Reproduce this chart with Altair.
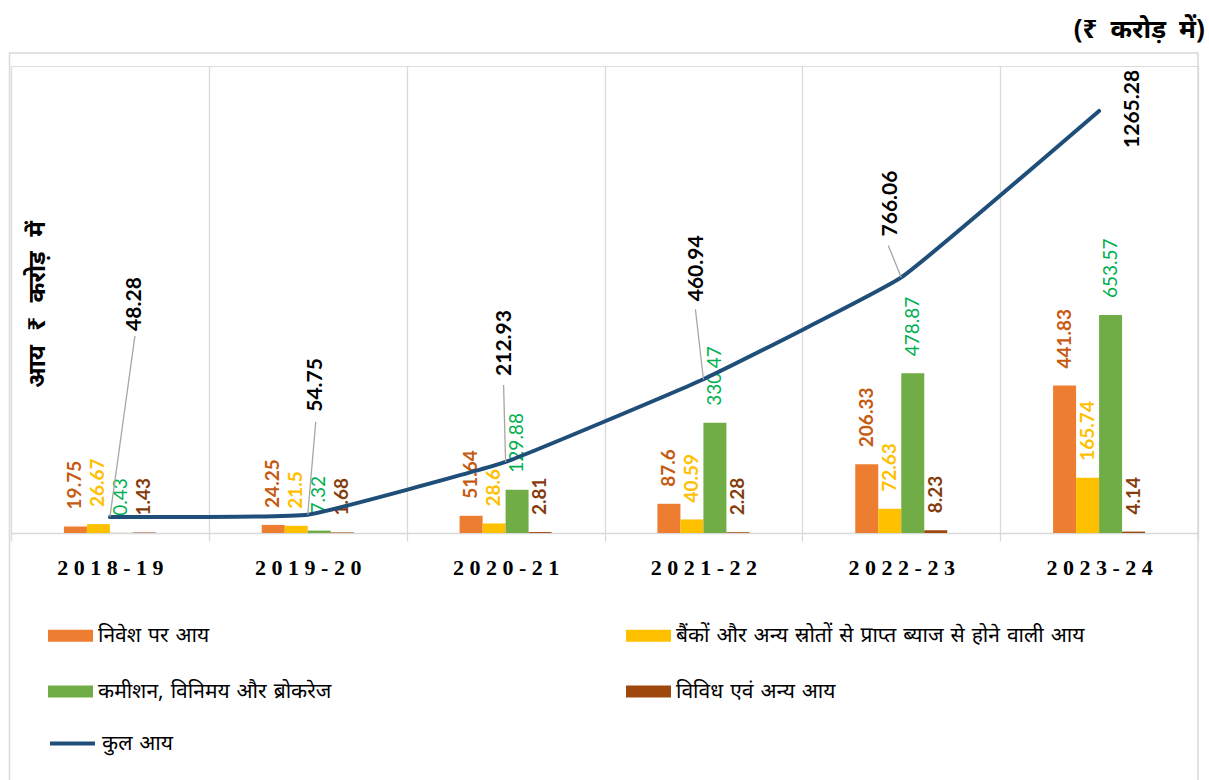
import altair as alt
import pandas as pd

# ---------------- data ----------------
years = ["2018-19", "2019-20", "2020-21", "2021-22", "2022-23", "2023-24"]
series_names = [
    "निवेश पर आय",
    "बैंकों और अन्य स्रोतों से प्राप्त ब्याज से होने वाली आय",
    "कमीशन, विनिमय और ब्रोकरेज",
    "विविध एवं अन्य आय",
]
total_name = "कुल आय"
investment = [19.75, 24.25, 51.64, 87.6, 206.33, 441.83]
interest = [26.67, 21.5, 28.6, 40.59, 72.63, 165.74]
commission = [0.43, 7.32, 129.88, 330.47, 478.87, 653.57]
misc = [1.43, 1.68, 2.81, 2.28, 8.23, 4.14]
total = [48.28, 54.75, 212.93, 460.94, 766.06, 1265.28]

# ---------------- styles ----------------
bar_colors = ["#ED7D31", "#FFC000", "#70AD47", "#9E480E"]
line_color = "#1F4E79"
label_colors = ["#C55A11", "#FFC000", "#00B050", "#843C0C"]
label_weights = ["bold", "bold", "normal", "bold"]
# manual nudges of the total labels (pixels): (right, up) of label start, leader end (right, down)
total_label_nudge = [(25.5, 186), (8.5, 103), (-1, 86), (-6.5, 78), (-10.5, 41), (33.5, -37)]
leader_end = [(25, -181), (8, -93), (-2, -77), (-8, -70), (-13, -32), None]
# legend is filled column by column: order the entries so rows read like the reference
legend_order = [0, 2, 1, 3]

DEV = "Noto Sans, sans-serif"
NUM = "Lato"
WIDE = "replace(datum.label, regexp(' ', 'g'), '\u2004')"

W, H = 1187, 467
STEP = W / len(years)
GROUP = 92  # width of a 4-bar group in pixels

series_values = [investment, interest, commission, misc]
rows = []
for s, vals in zip(series_names, series_values):
    for y, v in zip(years, vals):
        rows.append({"year": y, "series": s, "value": v, "label": str(v)})
bars_df = pd.DataFrame(rows)
total_df = pd.DataFrame({"year": years, "total": total, "name": total_name,
                         "label": [str(t) for t in total]})

x_scale = alt.Scale(paddingInner=0, paddingOuter=0)
x_axis = alt.Axis(
    title=None, tickBand="extent", grid=True, gridColor="#D9D9D9", gridWidth=1.3,
    domainColor="#D9D9D9", domainWidth=1.5, tickColor="#D9D9D9", tickSize=8, tickWidth=1.3,
    labelFont="Liberation Serif", labelFontWeight="bold", labelFontSize=22, labelColor="black",
    labelBaseline="alphabetic", labelPadding=33, labelAngle=0,
    labelExpr="join(split(datum.label, ''), '\u2005')",
)
y_scale = alt.Scale(domain=[0, 1400], nice=False, zero=True)
SP = "\u2002\u200a"
y_axis = alt.Axis(
    title=SP.join(["आय", "₹", "करोड़", "में"]), labels=False, ticks=False, domain=False, grid=False,
    titleX=26, titleY=238, titleAngle=270, titleAlign="center", titleBaseline="middle",
    titleFont=DEV, titleFontSize=24, titleFontWeight="bold", titleColor="black",
)

def X():
    return alt.X("year:N", sort=years, scale=x_scale, axis=x_axis)

XO = alt.XOffset("series:N", sort=series_names,
                 scale=alt.Scale(domain=series_names, paddingInner=0, paddingOuter=0,
                                 range=[(STEP - GROUP) / 2, (STEP + GROUP) / 2]))
Y = alt.Y("value:Q", scale=y_scale, axis=y_axis)

bar_legend = alt.Legend(
    title=None, orient="none", legendX=37, legendY=547, columns=2,
    columnPadding=294, rowPadding=23, padding=0,
    symbolType="M-1,-0.27H1V0.27H-1Z", symbolSize=2025, symbolStrokeWidth=0,
    labelFont=DEV, labelFontSize=21, labelColor="black", labelOffset=5, labelLimit=800,
    labelExpr=WIDE,
)
line_legend = alt.Legend(
    title=None, orient="none", legendX=37, legendY=653, padding=0,
    symbolType="stroke", symbolSize=2025, symbolStrokeWidth=4,
    labelFont=DEV, labelFontSize=21, labelColor="black", labelOffset=5, labelLimit=800,
    labelExpr=WIDE,
)
color = alt.Color("series:N",
                  scale=alt.Scale(domain=[series_names[i] for i in legend_order],
                                  range=[bar_colors[i] for i in legend_order]),
                  legend=bar_legend)

frame = alt.Chart(pd.DataFrame({"a": [0]})).mark_rect(
    fill=None, stroke="#D9D9D9", strokeWidth=1.5, clip=False
).encode(x=alt.value(-1.5), x2=alt.value(W), y=alt.value(-13), y2=alt.value(760))

bars = alt.Chart(bars_df).mark_bar().encode(x=X(), xOffset=XO, y=Y, color=color)

layers = [frame, bars]

for s, c, w in zip(series_names, label_colors, label_weights):
    layers.append(
        alt.Chart(bars_df).transform_filter(alt.datum.series == s).mark_text(
            angle=270, align="left", baseline="middle", dx=17, font=NUM,
            fontSize=19, fontWeight=w, color=c,
        ).encode(x=X(), xOffset=XO, y=Y, text="label:N")
    )

line = alt.Chart(total_df).mark_line(
    interpolate="cardinal", tension=0.7, strokeWidth=4, strokeCap="round"
).encode(
    x=X(),
    y=alt.Y("total:Q", scale=y_scale, axis=y_axis),
    stroke=alt.Stroke("name:N", scale=alt.Scale(domain=[total_name], range=[line_color]),
                      legend=line_legend),
)
layers.append(line)

for i, yr in enumerate(years):
    right, up = total_label_nudge[i]
    base = alt.Chart(total_df).transform_filter(alt.datum.year == yr)
    if leader_end[i] is not None:
        lx, ly = leader_end[i]
        layers.append(base.mark_rule(color="#A6A6A6", strokeWidth=1.3, x2Offset=lx, y2Offset=ly).encode(
            x=X(),
            x2="year:N",
            y=alt.Y("total:Q", scale=y_scale, axis=y_axis),
            y2="total:Q",
        ))
    layers.append(base.mark_text(
        angle=270, align="left", baseline="middle", dx=up, dy=right, font=NUM,
        fontSize=21, fontWeight="bold", color="black",
    ).encode(
        x=X(),
        y=alt.Y("total:Q", scale=y_scale, axis=y_axis),
        text="label:N",
    ))

chart = alt.layer(*layers).properties(
    width=W, height=H,
    autosize=alt.AutoSizeParams(type="none"),
    padding={"left": 11, "top": 66, "right": 11, "bottom": 247},
    title=alt.TitleParams(
        text="(₹\u2002करोड़\u2002में)", anchor="end", fontSize=26, fontWeight="bold",
        font=DEV, color="black", offset=9, dx=6,
    ),
).configure_view(stroke=None).configure(background="white")

chart.save("out.html", embed_options={"renderer": "svg", "actions": False})
